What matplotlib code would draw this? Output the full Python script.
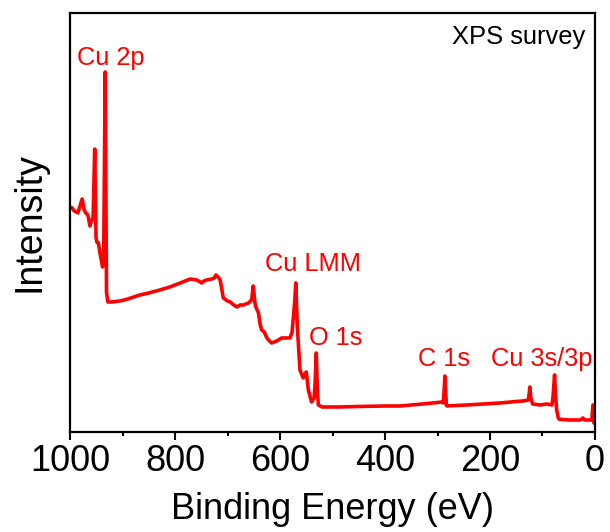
# -*- coding: utf-8 -*-
"""
绘制 XPS 全谱 (survey) 图。

数据点由原图读取，横轴为结合能 (eV，从大到小)，纵轴为任意单位的强度。
结果保存为 out.png。
"""
import matplotlib.pyplot as plt
from matplotlib.ticker import MultipleLocator

# 结合能 (eV)
binding_energy = [
    1000, 996, 992, 985, 977, 973, 970, 966, 962, 960, 958, 956, 953, 950.5,
    949, 946, 943, 938, 936, 933, 930.5, 928, 920, 905, 890, 867, 850, 829,
    810, 790, 771, 759, 752, 749, 745, 740, 730, 725, 722, 718, 714, 710,
    708, 700, 695, 688, 682, 676, 670, 660, 654, 651, 648, 646, 641, 638,
    635, 630, 625, 620, 616, 606, 597, 581, 577, 575, 572, 570, 568, 567,
    564, 562, 556, 553, 550, 546, 540, 535, 533, 531, 529, 527, 520, 511,
    486, 450, 400, 371, 340, 308, 292, 289, 287, 286, 284.5, 283, 282, 244,
    181, 150, 137, 127, 125, 124, 122.5, 119, 105, 92, 82, 80, 78, 77,
    75.5, 73, 70, 68, 50, 28.6, 25, 23, 21, 19, 6, 5, 4, 3, 2, 0,
]
# 强度 (a.u.)
intensity = [
    225, 224, 221, 219, 233, 222, 219, 217, 206, 210, 212, 215, 283, 195,
    190, 189, 179, 165, 170, 360, 140, 130, 130, 131, 133, 137, 139, 142,
    145, 149, 153, 152, 150, 149, 151, 152, 153, 154, 157, 155, 152, 140,
    134, 131, 130, 127, 125, 127, 127, 129, 132, 146, 130, 125, 119, 108,
    102, 100, 94, 91, 89, 91, 94, 94, 100, 112, 130, 149, 120, 105,
    80, 62, 54, 58, 60, 42, 30, 34, 50, 79, 45, 27, 25, 25,
    25, 25.5, 26, 26, 27.5, 29, 30, 29, 45, 56, 40, 27, 26, 27,
    29, 30.5, 31, 32, 40, 45, 35, 28, 27, 28, 27, 35, 50, 57,
    40, 22, 14, 12.7, 12, 12, 13, 14, 12.5, 12, 12, 20, 27, 15, 9, 9,
]

# 峰标注: (文字, 结合能, 强度)
peak_labels = ['Cu 2p', 'Cu LMM', 'O 1s', 'C 1s', 'Cu 3s/3p']
label_be = [986.7, 628.6, 544.8, 337, 198.7]
label_int = [367, 161, 87, 66, 66]


def plot_xps_survey(output_image_path):
    plt.rcParams['font.family'] = ['Liberation Sans', 'DejaVu Sans']

    fig = plt.figure(figsize=(6.1, 5.32), dpi=100)
    ax = fig.add_axes([0.1148, 0.188, 0.8606, 0.7876])

    # 谱线
    ax.plot(binding_energy, intensity, color='#FF0000', linewidth=2.6)

    # 峰位标注
    for text, x, y in zip(peak_labels, label_be, label_int):
        ax.text(x, y, text, color='#FF0000', fontsize=18.3,
                ha='left', va='baseline')
    ax.text(0.981, 0.926, 'XPS survey', transform=ax.transAxes,
            fontsize=18.4, ha='right', va='baseline', color='black')

    # 坐标轴
    ax.set_xlim(1000, 0)
    ax.set_ylim(0, 419)
    ax.set_yticks([])
    ax.xaxis.set_major_locator(MultipleLocator(200))
    ax.xaxis.set_minor_locator(MultipleLocator(100))
    ax.tick_params(axis='x', which='major', direction='out', length=6,
                   width=1.5, labelsize=26, pad=3)
    ax.tick_params(axis='x', which='minor', direction='out', length=3,
                   width=1.5)
    for spine in ax.spines.values():
        spine.set_linewidth(1.6)

    ax.set_xlabel('Binding Energy (eV)', fontsize=26, labelpad=9)
    ax.set_ylabel('Intensity', fontsize=27, labelpad=16)

    fig.savefig(output_image_path, dpi=100)


def main():
    plot_xps_survey('out.png')


if __name__ == '__main__':
    main()
